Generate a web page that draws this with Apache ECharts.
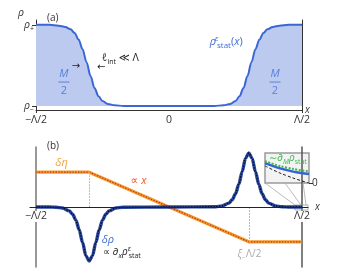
<!DOCTYPE html>
<html><head><meta charset="utf-8">
<script src="https://cdn.jsdelivr.net/npm/echarts@6/dist/echarts.min.js"></script>
<style>html,body{margin:0;padding:0;background:#fff}#c{width:339px;height:276px}</style>
</head><body><div id="c"></div>
<script>
// ---------- Panel (a): stationary density profile (x in units of Λ/2) ----------
const xA = [-1, -0.9, -0.83, -0.78, -0.74, -0.71, -0.68, -0.65, -0.62, -0.59, -0.56, -0.53, -0.5, -0.46, -0.41, -0.34, 0, 0.34, 0.41, 0.46, 0.5, 0.53, 0.56, 0.59, 0.62, 0.65, 0.68, 0.71, 0.74, 0.78, 0.83, 0.9, 1];
const rhoStat = [1, 1, 0.99, 0.975, 0.945, 0.9, 0.82, 0.7, 0.54, 0.37, 0.22, 0.12, 0.06, 0.025, 0.008, 0, 0, 0, 0.008, 0.025, 0.06, 0.12, 0.22, 0.37, 0.54, 0.7, 0.82, 0.9, 0.945, 0.975, 0.99, 1, 1];
const tickLabelsA = {'-1': '−Λ/2', '0': '0', '1': 'Λ/2'};

// ---------- Panel (b): perturbations ----------
const xEta = [-1, -0.6, 0.6, 1];
const deltaEta = [5.8, 5.8, -5.8, -5.8];
const xRho = [-1, -0.9, -0.85, -0.8, -0.75, -0.725, -0.7, -0.675, -0.65, -0.625, -0.6, -0.575, -0.55, -0.525, -0.5, -0.475, -0.45, -0.4, -0.35, 0, 0.35, 0.4, 0.45, 0.475, 0.5, 0.525, 0.55, 0.575, 0.6, 0.625, 0.65, 0.675, 0.7, 0.725, 0.75, 0.8, 0.85, 0.9, 1];
const deltaRho = [0, 0, -0.05, -0.17, -0.64, -1.2, -2.2, -3.8, -5.9, -8.1, -9, -8.1, -5.9, -3.8, -2.2, -1.2, -0.64, -0.17, -0.05, 0, 0.05, 0.17, 0.64, 1.2, 2.2, 3.8, 5.9, 8.1, 9, 8.1, 5.9, 3.8, 2.2, 1.2, 0.64, 0.17, 0.05, 0, 0];
const kinkX = [-0.6, 0.6];
const tickLabelsB = {'-1': '−Λ/2', '1': 'Λ/2'};

// ---------- Inset ----------
const xIn = [0, 0.25, 0.5, 0.75, 1];
const greenIn = [0.73, 0.6, 0.51, 0.44, 0.39];
const blueIn = [0.66, 0.53, 0.43, 0.35, 0.30];
const blackIn = [0.57, 0.39, 0.24, 0.11, 0.0];

const zip = (a, b) => a.map((v, i) => [v, b[i]]);
const FF = '"Open Sans","DejaVu Sans",sans-serif';
function rich(color, size) {
  const s = size || 11, ss = Math.round(s * 0.7);
  return {
    i: {fontFamily: FF, fontStyle: 'italic', fontSize: s, color: color, lineHeight: s + 4},
    n: {fontFamily: FF, fontSize: s, color: color, lineHeight: s + 4},
    sup: {fontFamily: FF, fontStyle: 'italic', fontSize: ss, color: color, verticalAlign: 'top', lineHeight: ss + 1, width: 1},
    sub: {fontFamily: FF, fontSize: ss, color: color, verticalAlign: 'bottom', lineHeight: ss + 1},
    subi: {fontFamily: FF, fontStyle: 'italic', fontSize: ss, color: color, verticalAlign: 'bottom', lineHeight: ss + 1},
    bar: {width: 11, height: 1, lineHeight: 2, fontSize: 1, backgroundColor: color}
  };
}
function note(coord, text, color, size, align) {
  return {
    coord: coord, symbol: 'circle', symbolSize: 0, itemStyle: {color: 'transparent'},
    label: {show: true, position: 'inside', formatter: text, align: align || 'center', verticalAlign: 'middle',
      color: color, fontFamily: FF, fontSize: size || 11, rich: rich(color, size)}
  };
}
const blueTxt = '#3f6ad8';
const chart = echarts.init(document.getElementById('c'), null, {renderer: 'canvas'});
chart.setOption({
  animation: false,
  backgroundColor: '#fff',
  title: [
    {text: '(a)', left: 42, top: 8, textStyle: {fontFamily: FF, fontSize: 10, fontWeight: 'normal', color: '#333'}},
    {text: '(b)', left: 42, top: 136, textStyle: {fontFamily: FF, fontSize: 10, fontWeight: 'normal', color: '#333'}}
  ],
  grid: [
    {left: 36, right: 37, top: 20, height: 90},
    {left: 30, right: 31, top: 147, height: 120},
    {left: 265, top: 153, width: 44, height: 30, show: true, backgroundColor: '#f3f3f3', borderColor: '#9a9a9a', borderWidth: 1.5}
  ],
  xAxis: [
    {type: 'value', gridIndex: 0, min: -1, max: 1, splitLine: {show: false},
      axisLine: {onZero: false, lineStyle: {color: '#333', width: 1}},
      axisTick: {show: true, customValues: [-1, 1], length: 3, lineStyle: {color: '#333'}},
      axisLabel: {customValues: [-1, 0, 1], formatter: v => tickLabelsA[String(v)], margin: 5, color: '#333', fontFamily: FF, fontSize: 10.5},
      name: 'x', nameGap: 3, nameTextStyle: {fontFamily: FF, fontStyle: 'italic', fontSize: 10, color: '#333', padding: [0, 0, 5, 0]}},
    {type: 'value', gridIndex: 1, min: -1.045, max: 1.045, splitLine: {show: false}, z: 5,
      position: 'bottom', offset: -60,
      axisLine: {onZero: false, lineStyle: {color: '#222', width: 1}},
      axisTick: {show: false},
      axisLabel: {customValues: [-1, 1], formatter: v => tickLabelsB[String(v)], margin: 4, color: '#333', fontFamily: FF, fontSize: 10.5, backgroundColor: '#fff', padding: [0, 1, 0, 1]},
      name: 'x', nameGap: 3, nameTextStyle: {fontFamily: FF, fontStyle: 'italic', fontSize: 10, color: '#333'}},
    {type: 'value', gridIndex: 2, min: 0, max: 1, show: false}
  ],
  yAxis: [
    {type: 'value', gridIndex: 0, min: -0.05, max: 1.06, splitLine: {show: false},
      axisLine: {show: true, onZero: false, lineStyle: {color: '#333', width: 1}},
      axisTick: {show: true, customValues: [0, 1], length: 4, lineStyle: {color: '#333'}},
      axisLabel: {customValues: [0, 1], margin: 2, formatter: v => v === 1 ? '{i|ρ}{sub|+}' : '{i|ρ}{sub|−}', rich: rich('#333', 10.5)},
      name: 'ρ', nameLocation: 'end', nameGap: 1, nameTextStyle: {fontFamily: FF, fontStyle: 'italic', fontSize: 10.5, color: '#333', align: 'right', padding: [0, 12, 0, 0]}},
    {type: 'value', gridIndex: 0, position: 'right', min: -0.05, max: 1.06, splitLine: {show: false},
      axisLine: {show: true, onZero: false, lineStyle: {color: '#333', width: 1}}, axisTick: {show: false}, axisLabel: {show: false}},
    {type: 'value', gridIndex: 1, min: -10, max: 10, offset: -6, splitLine: {show: false},
      axisLine: {show: true, onZero: false, lineStyle: {color: '#777', width: 1.5}}, axisTick: {show: false}, axisLabel: {show: false}},
    {type: 'value', gridIndex: 1, position: 'right', min: -10, max: 10, offset: -6, splitLine: {show: false},
      axisLine: {show: true, onZero: false, lineStyle: {color: '#555', width: 1.5}}, axisTick: {show: false}, axisLabel: {show: false}},
    {type: 'value', gridIndex: 2, position: 'right', min: 0, max: 1, splitLine: {show: false},
      axisLine: {show: false, onZero: false},
      axisTick: {show: true, customValues: [0], length: 4, lineStyle: {color: '#333', width: 1}},
      axisLabel: {customValues: [0], formatter: () => '0', margin: 3, color: '#333', fontFamily: FF, fontSize: 10}}
  ],
  series: [
    {type: 'line', xAxisIndex: 0, yAxisIndex: 0, data: zip(xA, rhoStat), smooth: 0.35, smoothMonotone: 'x', showSymbol: false,
      lineStyle: {color: '#3a66d6', width: 2}, areaStyle: {color: '#bccaef', opacity: 1},
      markPoint: {silent: true, data: [
        note([0.43, 0.79], '{i|ρ}{sup|ε}{sub|stat}{n|(}{i|x}{n|)}', blueTxt, 11),
        note([-0.79, 0.295], '{i|M}\n{bar| }\n{n|2}', '#5b80dc', 11),
        note([0.797, 0.295], '{i|M}\n{bar| }\n{n|2}', '#5b80dc', 11),
        note([-0.504, 0.59], '{i|ℓ}{sub|int}{n| ≪ Λ}', '#222', 10.5, 'left'),
        note([-0.70, 0.49], '→', '#222', 10),
        note([-0.51, 0.48], '←', '#222', 10)
      ]}
    },
    {type: 'line', xAxisIndex: 1, yAxisIndex: 2, data: zip(xEta, deltaEta), showSymbol: false, z: 3,
      lineStyle: {color: '#f39a2b', width: 3.2},
      markLine: {silent: true, symbol: ['none', 'none'], label: {show: false}, lineStyle: {color: '#bbb', width: 1, type: [2, 1]},
        data: [
          [{coord: [kinkX[0], deltaEta[1]]}, {coord: [kinkX[0], 0]}],
          [{coord: [kinkX[1], 0]}, {coord: [kinkX[1], deltaEta[2]]}]
        ]},
      markPoint: {silent: true, data: [
        note([-0.808, 7.33], '{i|δη}', '#f4a23a', 11),
        note([-0.229, 4.33], '{n|∝ }{i|x}', '#e5582b', 11),
        note([-0.459, -5.5], '{i|δρ}', blueTxt, 11),
        note([-0.496, -7.6], '{n|∝ ∂}{subi|x}{i|ρ}{sup|ε}{sub|stat}', '#222', 10, 'left'),
        note([0.605, -7.9], '{i|ξ}{sub|−}{n|Λ/2}', '#aaa', 10)
      ]}
    },
    {type: 'line', xAxisIndex: 1, yAxisIndex: 2, data: zip(xEta, deltaEta), showSymbol: false, z: 4,
      lineStyle: {color: '#c4361b', width: 1.2, type: [1.4, 1.4]}},
    {type: 'line', xAxisIndex: 1, yAxisIndex: 2, data: zip(xRho, deltaRho), smooth: 0.3, smoothMonotone: 'x', showSymbol: false, z: 3,
      lineStyle: {color: '#28469c', width: 3.4},
      markLine: {silent: true, symbol: ['none', 'none'], label: {show: false}, lineStyle: {color: '#aaa', width: 0.8, type: 'solid'},
        data: [
          [{coord: [0.722, 4.0]}, {coord: [0.947, 0.33]}],
          [{coord: [0.872, 4.0]}, {coord: [0.992, 0.33]}],
          [{coord: [1.008, 4.0]}, {coord: [1.03, 0.33]}]
        ]},
      markArea: {silent: true, itemStyle: {color: 'rgba(0,0,0,0)', borderColor: '#999', borderWidth: 0.8},
        data: [[{coord: [0.947, 0.33]}, {coord: [1.045, -0.5]}]]}
    },
    {type: 'line', xAxisIndex: 1, yAxisIndex: 2, data: zip(xRho, deltaRho), smooth: 0.3, smoothMonotone: 'x', showSymbol: false, z: 4,
      lineStyle: {color: '#050a20', width: 1.3, type: [1.4, 1.4]}},
    {type: 'line', xAxisIndex: 2, yAxisIndex: 4, data: zip(xIn, blueIn), smooth: 0.4, showSymbol: false, z: 3,
      lineStyle: {color: '#3563d4', width: 2.5}},
    {type: 'line', xAxisIndex: 2, yAxisIndex: 4, data: zip(xIn, greenIn), smooth: 0.4, showSymbol: false, z: 4,
      lineStyle: {color: '#3cb54a', width: 2, type: [2, 1.5]},
      markPoint: {silent: true, data: [note([0.52, 0.82], '{n|∼∂}{subi|M}{i|ρ}{sub|stat}', '#3cb54a', 10)]}},
    {type: 'line', xAxisIndex: 2, yAxisIndex: 4, data: zip(xIn, blackIn), smooth: 0.4, showSymbol: false, z: 5,
      lineStyle: {color: '#222', width: 1, type: [3, 2]}}
  ]
});
</script></body></html>
